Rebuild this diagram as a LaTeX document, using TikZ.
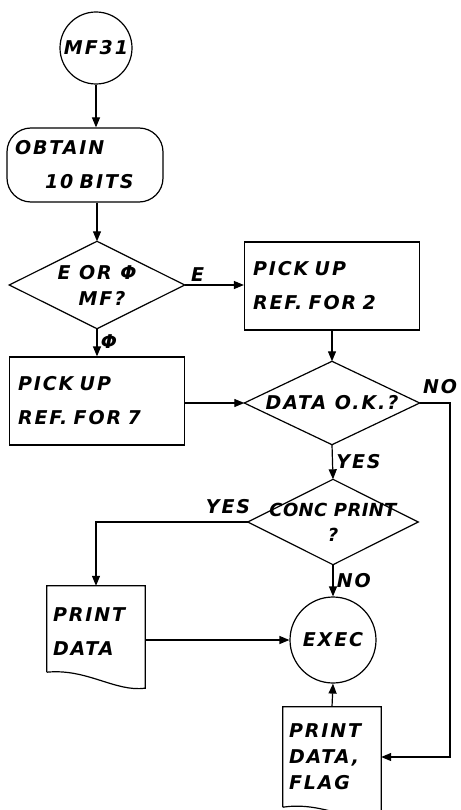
\documentclass[tikz,border=0pt]{standalone}
\usepackage{fontspec}
\setmainfont{DejaVu Sans}
\usetikzlibrary{arrows.meta}
\tikzset{
  hand/.style={font=\fontsize{19}{34}\selectfont\bfseries\itshape\addfontfeature{LetterSpace=10}},
  box/.style={draw, line width=1.2pt, minimum width=175pt, minimum height=88pt, text width=158pt, align=left, hand, inner sep=0pt},
  diaspace/.style={minimum width=#1, inner sep=0pt, align=center, hand},
  circ/.style={draw, line width=1.2pt, circle, inner sep=0pt, hand},
  docbox/.style={minimum width=98pt, minimum height=92pt, text width=86pt, align=left, hand, inner sep=0pt},
  arr/.style={line width=1.2pt, -{Triangle[length=10pt,width=8pt]}},
  outline/.style={line width=1.2pt, line join=miter},
  lbl/.style={hand}
}
\begin{document}
\begin{tikzpicture}[x=1pt,y=-1pt]
\useasboundingbox (0,0) rectangle (460,810);
\fill[white] (0,0) rectangle (460,810);

\node[circ, minimum size=72pt] (start) at (96,48) {MF31};
\node[draw, line width=1.2pt, rounded corners=24pt, minimum width=156pt, minimum height=74pt, text width=140pt, align=left, hand, inner sep=0pt] (obtain) at (85,165) {OBTAIN\\\hspace*{30pt}10 BITS};
\node[diaspace=175pt, minimum height=87pt] (d1) at (97,285) {E OR Φ\\[-8pt]\hspace*{10pt}MF?};
\node[box] (pr2) at (332,286) {PICK UP\\REF. FOR 2};
\node[box] (pr7) at (97,401) {PICK UP\\REF. FOR 7};
\node[diaspace=175pt, minimum height=83pt] (d2) at (332,403) {DATA O.K.?};
\node[diaspace=170pt, minimum height=85pt, font=\fontsize{18}{34}\selectfont\bfseries\itshape\addfontfeature{LetterSpace=2}] (d3) at (333,522) {CONC PRINT\\[-9pt]?};
\node[docbox] (doc1) at (96,632) {PRINT\\DATA};
\node[circ, minimum size=86pt] (exec) at (333,640) {EXEC};
\node[docbox, minimum height=100pt] (doc2) at (332,757) {PRINT\\[-8pt]DATA,\\[-8pt]FLAG};

% diamond outlines
\draw[outline] (d1.north) -- (d1.east) -- (d1.south) -- (d1.west) -- cycle;
\draw[outline] (d2.north) -- (d2.east) -- (d2.south) -- (d2.west) -- cycle;
\draw[outline] (d3.north) -- (d3.east) -- (d3.south) -- (d3.west) -- cycle;

% document outlines
\draw[outline] ([yshift=6pt]doc1.south west) -- (doc1.north west) -- (doc1.north east) -- ([yshift=-10pt]doc1.south east)
  .. controls ([xshift=-30pt,yshift=-14pt]doc1.south east) and ([xshift=40pt,yshift=10pt]doc1.south west) .. ([yshift=6pt]doc1.south west);
\draw[outline] (doc2.south west) -- (doc2.north west) -- (doc2.north east) -- ([yshift=-12pt]doc2.south east)
  .. controls ([xshift=-30pt,yshift=-16pt]doc2.south east) and ([xshift=40pt,yshift=6pt]doc2.south west) .. (doc2.south west);

% connectors
\draw[arr] (start.south) -- (start.south |- obtain.north);
\draw[arr] (d1.north |- obtain.south) -- (d1.north);
\draw[arr] (d1.east) -- node[lbl, above, pos=0.22] {E} (pr2.west |- d1.east);
\draw[arr] (pr2.south) -- (d2.north);
\draw[arr] (d1.south) -- node[lbl, right, pos=0.45] {Φ} (pr7.north);
\draw[arr] (pr7.east |- d2.west) -- (d2.west);
\coordinate (nocorner) at (450,403);
\draw[arr] (d2.east) -- (nocorner) |- (doc2.east);
\node[lbl] (nolbl) at (440,387) {NO};
\draw[arr] (d2.south) -- node[lbl, right, pos=0.5] {YES} (d3.north);
\draw[arr] (d3.west) -| (doc1.north);
\node[lbl] (yeslbl) at (228,507) {YES};
\draw[arr] (d3.south) -- node[lbl, right, pos=0.5] {NO} (exec.north);
\draw[arr] (doc1.east |- exec.west) -- (exec.west);
\draw[arr] (doc2.north) -- (exec.south);
\end{tikzpicture}
\end{document}
